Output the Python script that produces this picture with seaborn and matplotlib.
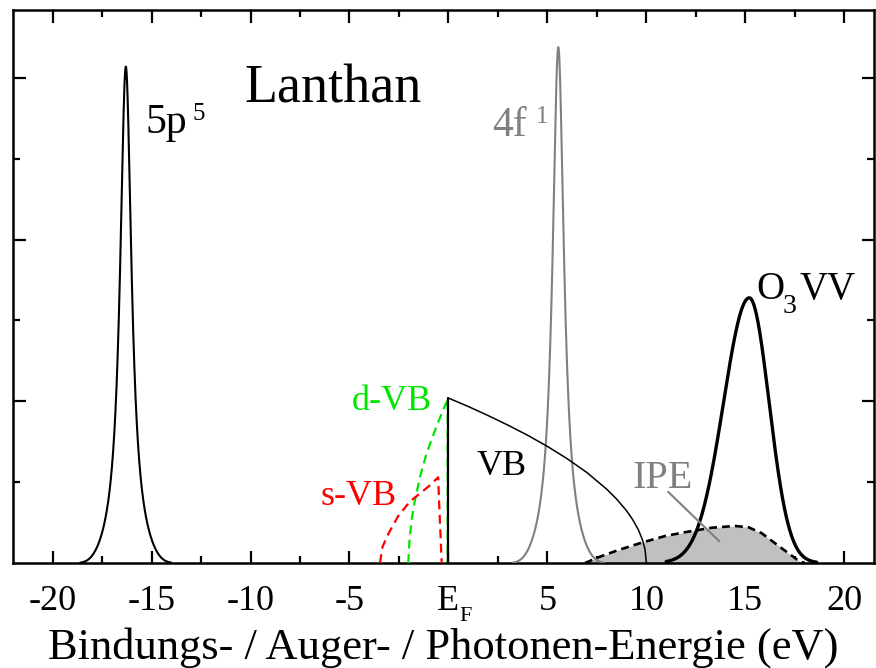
import numpy as np
import pandas as pd
import matplotlib
matplotlib.use("Agg")
import matplotlib.pyplot as plt
import seaborn as sns

# ---------------- data ----------------
xtick_values = [-20, -15, -10, -5, 0, 5, 10, 15, 20]
xtick_labels = ["-20", "-15", "-10", "-5", "E", "5", "10", "15", "20"]
fermi_subscript = "F"

# Lorentzian-like core level lines: 5p (black) and 4f (gray)
line_names = ["5p", "4f"]
line_centers = [-16.3, 5.55]
line_heights = [3.07, 3.19]
line_gammas = [0.35, 0.35]
line_colors = ["black", "#808080"]

# O3VV Auger peak (asymmetric)
o3vv_center = 15.2
o3vv_height = 1.64
o3vv_sigma_left = 1.30
o3vv_sigma_right = 1.00

# total valence band (VB)
vb_x = [0.0, 0.0, 1.0, 2.0, 3.0, 4.0, 5.0, 6.0, 7.0, 8.0, 8.5, 9.0, 9.3, 9.6, 9.8, 9.93, 10.0]
vb_y = [0.0, 1.02, 0.968, 0.912, 0.853, 0.790, 0.721, 0.645, 0.559, 0.456, 0.395, 0.323, 0.270, 0.204, 0.144, 0.085, 0.0]

# d-like valence band (green dashed)
dvb_x = [-2.03, -1.98, -1.86, -1.69, -1.44, -1.10, -0.68, -0.26, 0.0, -0.04, -0.04]
dvb_y = [0.0, 0.12, 0.27, 0.39, 0.53, 0.68, 0.82, 0.95, 1.02, 1.0, 0.0]

# s-like valence band (red dashed)
svb_x = [-3.46, -3.33, -3.04, -2.54, -1.95, -1.44, -0.94, -0.52, -0.47, -0.34]
svb_y = [0.0, 0.10, 0.18, 0.29, 0.38, 0.43, 0.48, 0.53, 0.37, 0.0]

# inverse photoemission (IPE)
ipe_x = [6.9, 7.57, 8.58, 9.77, 10.95, 12.12, 13.3, 14.48, 15.16, 15.83, 16.5, 17.18, 17.69, 18.0]
ipe_y = [0.0, 0.035, 0.08, 0.126, 0.167, 0.194, 0.218, 0.229, 0.221, 0.184, 0.122, 0.06, 0.014, 0.0]

# ---------------- style ----------------
sns.set_theme(style="ticks")
plt.rcParams.update({
    "font.family": ["Liberation Serif", "DejaVu Serif"],
    "text.color": "black",
    "axes.labelcolor": "black",
    "axes.linewidth": 1.8,
    "axes.edgecolor": "black",
    "xtick.direction": "in",
    "ytick.direction": "in",
    "xtick.top": True,
    "ytick.right": True,
    "xtick.color": "black",
    "ytick.color": "black",
    "xtick.labelcolor": "black",
})

fig = plt.figure(figsize=(8.76, 6.68), dpi=100)
ax = fig.add_axes([13 / 876, 105 / 668, 861 / 876, 553 / 668])

# IPE fill + dashed outline
ax.fill_between(ipe_x, ipe_y, 0, color="#c0c0c0", lw=0, zorder=1)
sns.lineplot(x=ipe_x, y=ipe_y, ax=ax, color="black", lw=1.9, sort=False,
             estimator=None, zorder=3).lines[-1].set_dashes((3.0, 1.9))

# Lorentzian lines
for c, h, g, col in zip(line_centers, line_heights, line_gammas, line_colors):
    xx = np.linspace(c - 2.3, c + 2.3, 1200)
    d = xx - c
    yy = h * (g ** 2 / (d ** 2 + g ** 2)) * np.exp(-(d / 1.7) ** 4)
    sns.lineplot(x=xx, y=yy, ax=ax, color=col, lw=1.5, sort=False, estimator=None, zorder=4)

# O3VV
xx = np.linspace(o3vv_center - 4.2, o3vv_center + 3.4, 800)
sig = np.where(xx < o3vv_center, o3vv_sigma_left, o3vv_sigma_right)
yy = o3vv_height * np.exp(-0.5 * ((xx - o3vv_center) / sig) ** 2)
sns.lineplot(x=xx, y=yy, ax=ax, color="black", lw=2.4, sort=False, estimator=None, zorder=5)

# partial valence bands
l = sns.lineplot(x=dvb_x, y=dvb_y, ax=ax, color="#00e600", lw=1.6, sort=False, estimator=None, zorder=4)
l.lines[-1].set_dashes((4, 2.5))
l = sns.lineplot(x=svb_x, y=svb_y, ax=ax, color="#ff0000", lw=1.6, sort=False, estimator=None, zorder=4)
l.lines[-1].set_dashes((4, 2.5))

# total VB
sns.lineplot(x=vb_x[:2], y=vb_y[:2], ax=ax, color="black", lw=1.6, sort=False, estimator=None, zorder=5)
sns.lineplot(x=vb_x[1:], y=vb_y[1:], ax=ax, color="black", lw=1.1, sort=False, estimator=None, zorder=5)

# IPE pointer
ax.plot([11.1, 13.68], [0.44, 0.135], color="#808080", lw=1.5, zorder=6)

# ---------------- texts ----------------
ax.text(-5.83, 2.845, "Lanthan", fontsize=39, ha="center", va="baseline")
ax.text(-15.3, 2.66, "5p", fontsize=30, ha="left", va="baseline")
ax.text(-12.95, 2.74, "5", fontsize=18, ha="left", va="baseline")
ax.text(2.2, 2.64, "4f", fontsize=30, ha="left", va="baseline", color="#808080")
ax.text(4.4, 2.72, "1", fontsize=18, ha="left", va="baseline", color="#808080")
ax.text(15.58, 1.63, "O", fontsize=28, ha="left", va="baseline")
ax.text(16.9, 1.545, "3", fontsize=20, ha="left", va="baseline")
ax.text(17.72, 1.63, "VV", fontsize=28, ha="left", va="baseline")
ax.text(-4.89, 0.946, "d-VB", fontsize=26, ha="left", va="baseline", color="#00e600")
ax.text(-2.6, 0.359, "s-VB", fontsize=26, ha="right", va="baseline", color="#ff0000")
ax.text(1.4, 0.544, "VB", fontsize=26, ha="left", va="baseline")
ax.text(9.3, 0.464, "IPE", fontsize=29, ha="left", va="baseline", color="#808080")

# ---------------- axes ----------------
ax.set_xlim(-22.0, 21.5)
ax.set_ylim(0, 3.42)
ax.set_xticks(xtick_values)
ax.set_xticklabels(xtick_labels)
ax.set_xticks(np.arange(-20, 21, 2.5), minor=True)
ax.set_yticks([1, 2, 3])
ax.set_yticklabels([])
ax.set_yticks([0.5, 1.5, 2.5], minor=True)
ax.tick_params(axis="both", which="major", length=9, width=1.6)
ax.tick_params(axis="both", which="minor", length=5, width=1.6)
ax.tick_params(axis="x", which="major", labelsize=26, pad=16, labelcolor="black")
# subscript F of the E_F tick label
ax.text(0.55, -0.104, fermi_subscript, fontsize=16, ha="left", va="baseline",
        transform=ax.get_xaxis_transform(), clip_on=False)
ax.set_xlabel("Bindungs- / Auger- / Photonen-Energie (eV)", fontsize=32, labelpad=6, color="black")
ax.set_ylabel("")
for s in ax.spines.values():
    s.set_visible(True)
    s.set_linewidth(1.8)

fig.savefig("out.png", dpi=100)
